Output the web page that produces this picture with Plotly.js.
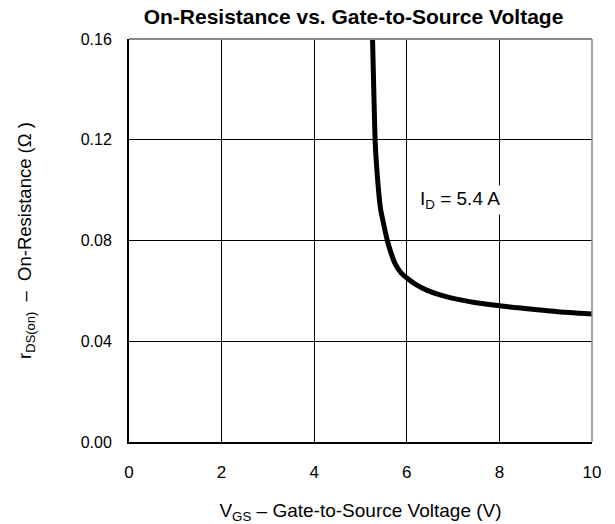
<!DOCTYPE html>
<html>
<head>
<meta charset="utf-8">
<script src="https://cdn.plot.ly/plotly-3.0.1.min.js"></script>
<style>html,body{margin:0;padding:0;background:#fff;}#chart{width:615px;height:524px;}</style>
</head>
<body>
<div id="chart"></div>
<script>
const vgs = [5.26, 5.28, 5.30, 5.32, 5.35, 5.38, 5.43, 5.50, 5.58, 5.66, 5.75, 5.87, 6.00, 6.20, 6.43, 6.70, 7.00, 7.50, 8.00, 8.50, 9.00, 9.50, 10.0];
const rds = [0.160, 0.145, 0.130, 0.118, 0.109, 0.102, 0.093, 0.0865, 0.0800, 0.0750, 0.0707, 0.0673, 0.0651, 0.0625, 0.0603, 0.0585, 0.0570, 0.0553, 0.0541, 0.0531, 0.0522, 0.0514, 0.0508];
const xTicks = [0, 2, 4, 6, 8, 10];
const yTicks = [0, 0.04, 0.08, 0.12, 0.16];
const yTickText = ["0.00", "0.04", "0.08", "0.12", "0.16"];

const font = "Liberation Sans, Arial, sans-serif";
Plotly.newPlot("chart", [{
  x: vgs, y: rds, type: "scatter", mode: "lines",
  line: {color: "#000", width: 5, shape: "spline", smoothing: 1},
  hoverinfo: "skip"
}], {
  width: 615, height: 524,
  margin: {l: 129, r: 23, t: 39, b: 82},
  paper_bgcolor: "#fff", plot_bgcolor: "#fff",
  showlegend: false,
  font: {family: font, color: "#000", size: 17},
  title: {text: "<b>On-Resistance vs. Gate-to-Source Voltage</b>", font: {size: 21, family: font}, x: 353.5/615, xanchor: "center", y: 1 - 17/524, yanchor: "middle"},
  xaxis: {
    range: [0, 10], tickvals: xTicks, ticktext: xTicks.map(String),
    showgrid: true, gridcolor: "#000", gridwidth: 1,
    showline: true, linecolor: "#000", linewidth: 2, mirror: false,
    ticks: "", ticklabelstandoff: 14, zeroline: false,
    tickfont: {size: 17},
    title: {text: "V<sub>GS</sub> – Gate-to-Source Voltage (V)", font: {size: 19}, standoff: 23}
  },
  yaxis: {
    range: [0, 0.16], tickvals: yTicks, ticktext: yTickText,
    showgrid: true, gridcolor: "#000", gridwidth: 1,
    showline: true, linecolor: "#000", linewidth: 2,
    ticks: "", ticklabelstandoff: 12, zeroline: false,
    tickfont: {size: 16},
    title: {text: "r<sub>DS(on)</sub>  –  On-Resistance (Ω )", font: {size: 18.5}, standoff: 44}
  },
  shapes: [
    {type: "line", xref: "paper", yref: "paper", x0: 0, x1: 1, y0: 1, y1: 1, line: {color: "#888", width: 2}},
    {type: "line", xref: "paper", yref: "paper", x0: 1, x1: 1, y0: 0, y1: 1, line: {color: "#888", width: 1.5}}
  ],
  annotations: [{
    x: 7.14, y: 0.0961, xref: "x", yref: "y",
    text: "I<sub>D</sub> = 5.4 A", showarrow: false,
    font: {size: 19}, bgcolor: "#fff", borderpad: 2
  }]
}, {displayModeBar: false, staticPlot: true});
</script>
</body>
</html>
